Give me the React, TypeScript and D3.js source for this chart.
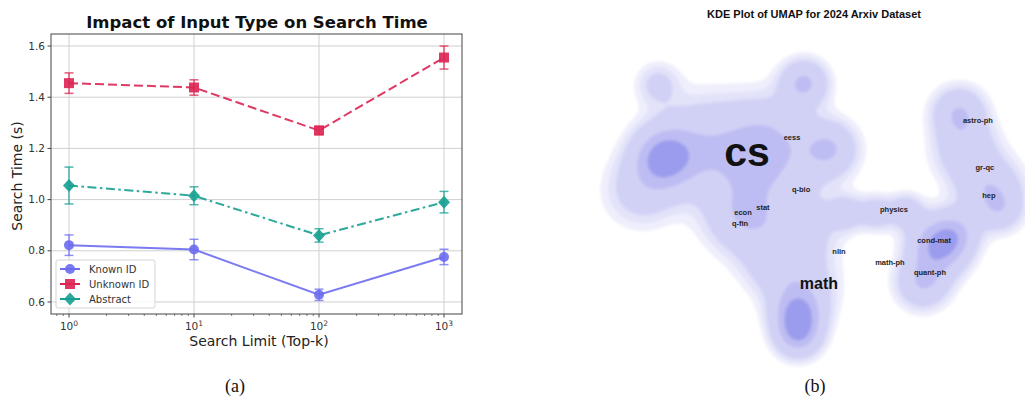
import React, { useMemo } from 'react';
import * as d3 from 'd3';

// ---------- Panel (a) data ----------
const topK = [1, 10, 100, 1000];
const knownId = [0.822, 0.805, 0.628, 0.776];
const knownErr = [0.04, 0.04, 0.022, 0.03];
const unknownId = [1.455, 1.438, 1.27, 1.555];
const unknownErr = [0.04, 0.03, 0.016, 0.045];
const abstractVals = [1.055, 1.015, 0.86, 0.99];
const abstractErr = [0.072, 0.035, 0.026, 0.042];
const yTicks = [0.6, 0.8, 1.0, 1.2, 1.4, 1.6];
const xTickExp = ['0', '1', '2', '3'];
const seriesNames = ['Known ID', 'Unknown ID', 'Abstract'];

// ---------- Panel (b) data: KDE mixture components in UMAP units ----------
const kdeX = [3.07, 4.81, 7.88, 7.64, 1.98, 2.78, 9.67, 10.85, 6.79, 9.53, 9.39, 9.39, 9.53, 8.11, 11.65, 13.07, 14.48, 16.04, 15.28, 16.84, 16.98, 17.31, 18.49, 18.96];
const kdeY = [9.86, 10.43, 10.67, 9.23, 8.27, 13.4, 13.45, 10.29, 6.92, 6.35, 2.4, 1.35, 3.7, 4.9, 7.21, 7.21, 7.31, 5.63, 3.85, 6.25, 12.02, 10.19, 8.27, 7.31];
const kdeSigma = [0.95, 1.5, 1.3, 1.8, 1.1, 0.68, 0.72, 0.85, 1.1, 1.1, 0.75, 0.7, 1.1, 1.0, 0.55, 0.55, 0.55, 0.9, 0.8, 0.7, 0.8, 1.0, 1.0, 0.65];
const kdeWeight = [1.0, 0.45, 0.42, 0.45, 0.35, 0.28, 0.68, 0.6, 0.45, 0.35, 0.85, 0.8, 0.4, 0.3, 0.4, 0.4, 0.4, 1.0, 0.6, 0.4, 0.6, 0.45, 0.55, 0.3];
const kdeLevels = [0.08, 0.14, 0.22, 0.62, 0.95];
const kdeFills = ['#eeeefc', '#e2e2f9', '#d1d1f6', '#bdbdf3', '#9c9cee'];

const fieldNames = ['cs', 'eess', 'astro-ph', 'gr-qc', 'hep', 'q-bio', 'econ', 'stat', 'q-fin', 'physics', 'cond-mat', 'nlin', 'math-ph', 'quant-ph', 'math'];
const fieldX = [7.03, 9.15, 17.92, 18.25, 18.44, 9.58, 6.84, 7.78, 6.7, 13.96, 15.85, 11.37, 13.77, 15.66, 10.42];
const fieldY = [10.1, 10.82, 11.63, 9.38, 8.03, 8.32, 7.21, 7.45, 6.68, 7.36, 5.87, 5.34, 4.81, 4.33, 3.8];
const fieldRank = [2, 0, 0, 0, 0, 0, 0, 0, 0, 0, 0, 0, 0, 0, 1];

const COLORS = ['#6c6cf0', '#dc2352', '#16a091'];
const DASH = ['none', '9,4', '9,3.5,2.5,3.5'];

function Marker({ kind, x, y, color }: { kind: number; x: number; y: number; color: string }) {
  if (kind === 0) return <circle cx={x} cy={y} r={5} fill={color} fillOpacity={0.9} />;
  if (kind === 1) return <rect x={x - 5} y={y - 5} width={10} height={10} fill={color} fillOpacity={0.9} />;
  return <path d={`M${x},${y - 6.5}L${x + 6},${y}L${x},${y + 6.5}L${x - 6},${y}Z`} fill={color} fillOpacity={0.9} />;
}

export default function App() {
  const font = 'DejaVu Sans, sans-serif';
  const x = d3.scaleLog().domain([Math.pow(10, -0.144), Math.pow(10, 3.144)]).range([51, 462]);
  const y = d3.scaleLinear().domain([0.553, 1.647]).range([314, 34]);
  const series = [knownId, unknownId, abstractVals];
  const errs = [knownErr, unknownErr, abstractErr];
  const lineGen = d3.line<number>().x((_, i) => x(topK[i])).y((d) => y(d));

  const minorTicks: number[] = [];
  for (let e = -1; e <= 3; e++) for (let m = 2; m <= 9; m++) {
    const v = m * Math.pow(10, e);
    if (v > x.domain()[0] && v < x.domain()[1]) minorTicks.push(v);
  }

  // KDE panel
  const ux = d3.scaleLinear().domain([0, 20]).range([598, 1022]);
  const uy = d3.scaleLinear().domain([0, 15]).range([362, 50]);
  const step = 2, gx0 = 585, gy0 = 40, nx = 221, ny = 167;
  const contours = useMemo(() => {
    const vals = new Float64Array(nx * ny);
    for (let j = 0; j < ny; j++) {
      const vy = uy.invert(gy0 + j * step);
      for (let i = 0; i < nx; i++) {
        const vx = ux.invert(gx0 + i * step);
        let s = 0;
        for (let k = 0; k < kdeX.length; k++) {
          const dx = vx - kdeX[k], dy = vy - kdeY[k];
          s += kdeWeight[k] * Math.exp(-(dx * dx + dy * dy) / (2 * kdeSigma[k] * kdeSigma[k]));
        }
        vals[j * nx + i] = s;
      }
    }
    return d3.contours().size([nx, ny]).thresholds(kdeLevels)(Array.from(vals));
  }, []);
  const geo = d3.geoPath(d3.geoIdentity().scale(step).translate([gx0, gy0]) as any);

  return (
    <svg width={1025} height={398} style={{ position: 'absolute', left: 0, top: 0, background: '#fff' }}>
      <defs>
        <filter id="soft" x="-5%" y="-5%" width="110%" height="110%">
          <feGaussianBlur stdDeviation={1.8} />
        </filter>
        <clipPath id="plotclip"><rect x={51} y={34} width={411} height={280} /></clipPath>
      </defs>

      {/* ---------- Panel (a) ---------- */}
      <text x={257} y={28} textAnchor="middle" fontFamily={font} fontWeight="bold" fontSize={16.5} fill="#111">
        Impact of Input Type on Search Time
      </text>
      {yTicks.map((t) => (
        <line key={'gy' + t} x1={51} x2={462} y1={y(t)} y2={y(t)} stroke="#d0d0d0" strokeWidth={1} />
      ))}
      {topK.map((t) => (
        <line key={'gx' + t} x1={x(t)} x2={x(t)} y1={34} y2={314} stroke="#d0d0d0" strokeWidth={1} />
      ))}
      <g clipPath="url(#plotclip)">
        {series.map((s, si) => (
          <g key={'s' + si}>
            {s.map((v, i) => (
              <g key={i} stroke={COLORS[si]} strokeOpacity={0.75} strokeWidth={1.5}>
                <line x1={x(topK[i])} x2={x(topK[i])} y1={y(v - errs[si][i])} y2={y(v + errs[si][i])} />
                <line x1={x(topK[i]) - 4.5} x2={x(topK[i]) + 4.5} y1={y(v - errs[si][i])} y2={y(v - errs[si][i])} />
                <line x1={x(topK[i]) - 4.5} x2={x(topK[i]) + 4.5} y1={y(v + errs[si][i])} y2={y(v + errs[si][i])} />
              </g>
            ))}
            <path d={lineGen(s) || ''} fill="none" stroke={COLORS[si]} strokeWidth={2} strokeOpacity={0.9} strokeDasharray={DASH[si]} />
            {s.map((v, i) => (
              <Marker key={'m' + i} kind={si} x={x(topK[i])} y={y(v)} color={COLORS[si]} />
            ))}
          </g>
        ))}
      </g>
      <rect x={51} y={34} width={411} height={280} fill="none" stroke="#444" strokeWidth={1} />
      {yTicks.map((t) => (
        <g key={'yt' + t}>
          <line x1={47.5} x2={51} y1={y(t)} y2={y(t)} stroke="#444" />
          <text x={45} y={y(t)} dy="0.35em" textAnchor="end" fontFamily={font} fontSize={10.5} fill="#333">{t.toFixed(1)}</text>
        </g>
      ))}
      {minorTicks.map((t) => (
        <line key={'mt' + t} x1={x(t)} x2={x(t)} y1={314} y2={316} stroke="#444" strokeWidth={0.7} />
      ))}
      {topK.map((t, i) => (
        <g key={'xt' + t}>
          <line x1={x(t)} x2={x(t)} y1={314} y2={317.5} stroke="#444" />
          <text x={x(t)} y={330} textAnchor="middle" fontFamily={font} fontSize={10.5} fill="#333">
            10<tspan dy={-4} fontSize={7.5}>{xTickExp[i]}</tspan>
          </text>
        </g>
      ))}
      <text x={259} y={346} textAnchor="middle" fontFamily={font} fontSize={14} fill="#222">Search Limit (Top-k)</text>
      <text transform="translate(22,176) rotate(-90)" textAnchor="middle" fontFamily={font} fontSize={14} fill="#222">Search Time (s)</text>
      <rect x={56} y={260} width={99} height={48} rx={2} fill="#fff" fillOpacity={0.85} stroke="#d5d5d5" />
      {seriesNames.map((n, i) => (
        <g key={'lg' + i}>
          <line x1={60} x2={80} y1={269 + i * 15} y2={269 + i * 15} stroke={COLORS[i]} strokeWidth={2} />
          <Marker kind={i} x={70} y={269 + i * 15} color={COLORS[i]} />
          <text x={89} y={269 + i * 15} dy="0.35em" fontFamily={font} fontSize={10} fill="#333">{n}</text>
        </g>
      ))}
      <text x={235} y={392} textAnchor="middle" fontFamily="Liberation Serif, serif" fontSize={18} fill="#111">(a)</text>

      {/* ---------- Panel (b) ---------- */}
      <text x={814} y={18} textAnchor="middle" fontFamily="Liberation Sans, Arial, sans-serif" fontWeight="bold" fontSize={11} fill="#111">
        KDE Plot of UMAP for 2024 Arxiv Dataset
      </text>
      <g filter="url(#soft)">
        {contours.map((c, i) => (
          <path key={'c' + i} d={geo(c as any) || ''} fill={kdeFills[i]} stroke="none" />
        ))}
      </g>
      {fieldNames.map((n, i) => (
        <text key={'f' + n} x={ux(fieldX[i])} y={uy(fieldY[i])} dy="0.35em" textAnchor="middle"
          fontFamily="Liberation Sans, Arial, sans-serif" fontWeight="bold"
          fontSize={fieldRank[i] === 2 ? 41 : fieldRank[i] === 1 ? 16 : 7.5} fill={fieldRank[i] > 0 ? '#111' : '#222'}>
          {n}
        </text>
      ))}
      <text x={815} y={392} textAnchor="middle" fontFamily="Liberation Serif, serif" fontSize={18} fill="#111">(b)</text>
    </svg>
  );
}
